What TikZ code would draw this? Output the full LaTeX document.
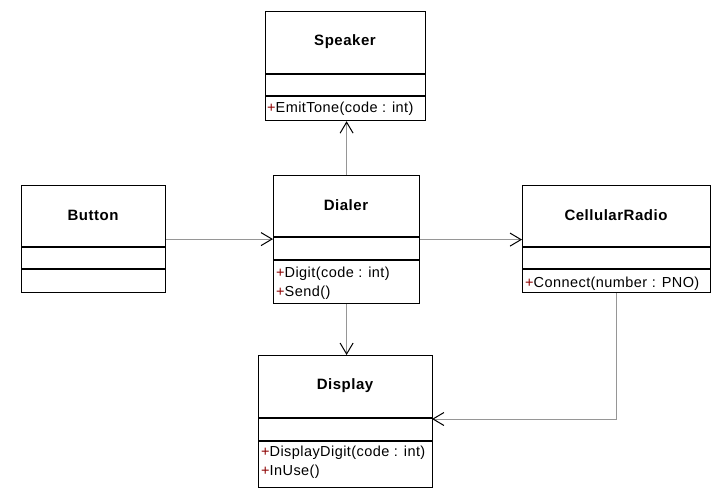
\documentclass[tikz,border=0pt]{standalone}
\usepackage{fontspec}
\setmainfont{Liberation Sans}
\newfontfamily\methfont[LetterSpace=3]{Liberation Sans}
\newfontfamily\ttlfont[LetterSpace=3.5]{Liberation Sans}
\usetikzlibrary{arrows.meta}
\definecolor{conn}{RGB}{150,150,150}
\definecolor{plus}{RGB}{140,0,0}
\newcommand{\pl}{\textcolor{plus}{+}}
\tikzset{
  cls/.style={draw=black, line width=1.2pt, inner sep=0pt, anchor=north west},
  sep/.style={draw=black, line width=1.2pt},
  ttl/.style={font=\ttlfont\fontsize{15}{17}\selectfont\bfseries, inner sep=0pt},
  meth/.style={font=\methfont\fontsize{14.5}{17}\selectfont, inner sep=0pt, anchor=base west},
  conn/.style={draw=conn, line width=0.9pt, -{Straight Barb[length=11pt,width=13pt,line width=1pt,color=black]}}
}
\begin{document}
\begin{tikzpicture}[x=1pt,y=-1pt]
\useasboundingbox (0,0) rectangle (728,492);
% Speaker
\node[cls, minimum width=160pt, minimum height=109pt] (speaker) at (265,11) {};
\draw[sep] (265,74) -- (425,74);
\draw[sep] (265,96) -- (425,96);
\node[ttl] (speakerT) at (345,42) {Speaker};
\node[meth] (speakerM) at (267,113) {\pl EmitTone(code : int)};
% Button
\node[cls, minimum width=144pt, minimum height=107pt] (button) at (21,185) {};
\draw[sep] (21,247) -- (165,247);
\draw[sep] (21,269) -- (165,269);
\node[ttl] (buttonT) at (93,215) {Button};
% Dialer
\node[cls, minimum width=146pt, minimum height=128pt] (dialer) at (273,175) {};
\draw[sep] (273,237) -- (419,237);
\draw[sep] (273,260) -- (419,260);
\node[ttl] (dialerT) at (346,205) {Dialer};
\node[meth] (dialerM1) at (276,277) {\pl Digit(code : int)};
\node[meth] (dialerM2) at (276,296) {\pl Send()};
% CellularRadio
\node[cls, minimum width=188pt, minimum height=107pt] (radio) at (522,185) {};
\draw[sep] (522,247) -- (710,247);
\draw[sep] (522,269) -- (710,269);
\node[ttl] (radioT) at (616,215) {CellularRadio};
\node[meth] (radioM) at (525,287) {\pl Connect(number : PNO)};
% Display
\node[cls, minimum width=174pt, minimum height=132pt] (display) at (258,355) {};
\draw[sep] (258,418) -- (432,418);
\draw[sep] (258,441) -- (432,441);
\node[ttl] (displayT) at (345,386) {Display};
\node[meth] (displayM1) at (261,456) {\pl DisplayDigit(code : int)};
\node[meth] (displayM2) at (261,475) {\pl InUse()};
\coordinate (displayIn) at (432,419);
% connectors
\draw[conn] (button.east) -- (dialer.west |- button.east);
\draw[conn] (dialer.east) -- (radio.west |- dialer.east);
\draw[conn] (dialer.north) -- (dialer.north |- speaker.south);
\draw[conn] (dialer.south) -- (dialer.south |- display.north);
\draw[conn] (radio.south) |- (displayIn);
\end{tikzpicture}
\end{document}
